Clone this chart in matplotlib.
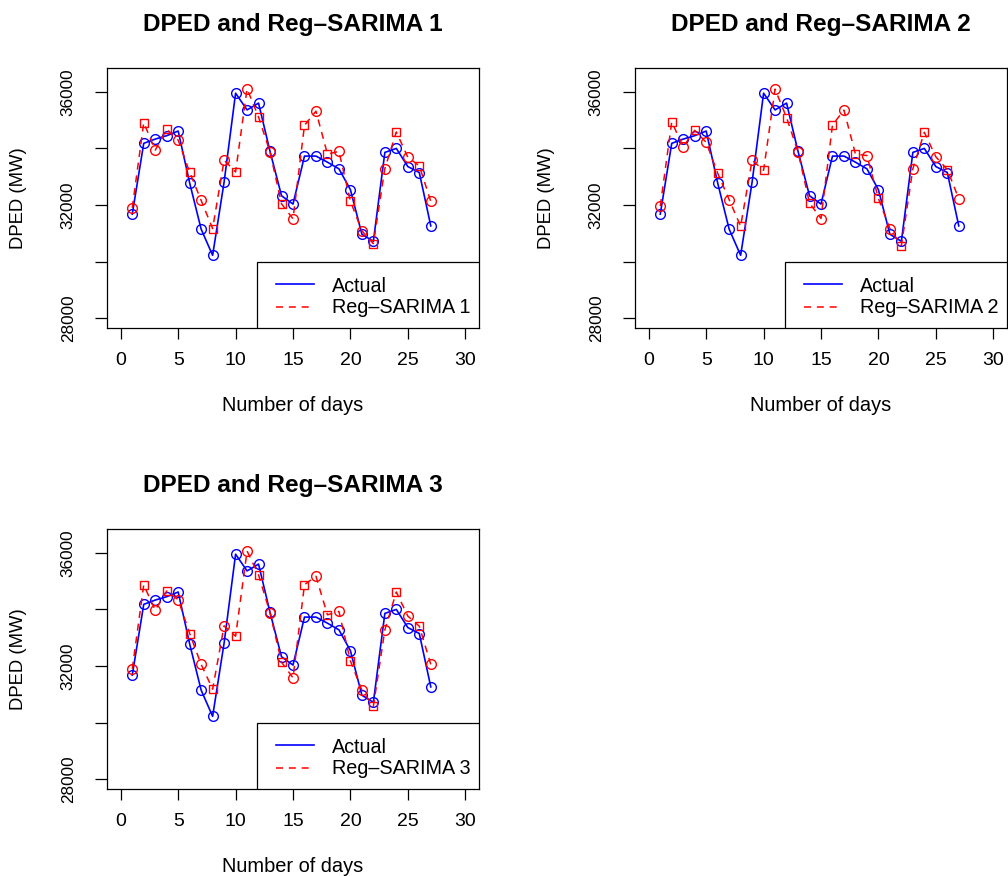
import matplotlib
matplotlib.use("Agg")
import matplotlib.pyplot as plt
from matplotlib.patches import Rectangle
import numpy as np

plt.rcParams['font.family'] = ['Liberation Sans', 'DejaVu Sans']

# Data
days = np.arange(1, 28)
actual = [31680, 34180, 34330, 34450, 34615, 32780, 31150, 30225, 32815, 35950,
          35360, 35600, 33895, 32330, 32035, 33730, 33730, 33515, 33280, 32545,
          30970, 30720, 33860, 34000, 33360, 33150, 31265]
reg_sarima_1 = [31905, 34910, 33940, 34675, 34295, 33160, 32165, 31170, 33585, 33170,
                36105, 35110, 33870, 32045, 31515, 34815, 35315, 33800, 33895, 32140,
                31090, 30640, 33290, 34580, 33690, 33385, 32130]
reg_sarima_2 = [31965, 34935, 34060, 34640, 34215, 33125, 32190, 31255, 33585, 33230,
                36095, 35090, 33880, 32070, 31525, 34830, 35350, 33800, 33750, 32235,
                31170, 30570, 33280, 34570, 33705, 33255, 32225]
reg_sarima_3 = [31905, 34865, 33975, 34650, 34345, 33150, 32060, 31185, 33420, 33055,
                36060, 35220, 33880, 32140, 31585, 34875, 35170, 33810, 33930, 32180,
                31150, 30580, 33280, 34615, 33765, 33410, 32060]
forecasts = [reg_sarima_1, reg_sarima_2, reg_sarima_3]
names = ['Reg\u2013SARIMA 1', 'Reg\u2013SARIMA 2', 'Reg\u2013SARIMA 3']

x_ticks = [0, 5, 10, 15, 20, 25, 30]
y_ticks = [28000, 30000, 32000, 34000, 36000]
y_ticklabels = ['28000', '', '32000', '', '36000']

W, H = 1008, 876
fig = plt.figure(figsize=(W / 100, H / 100), dpi=100)

# axes boxes in pixels: left, top
boxes = [(107, 68), (635, 68), (107, 529)]
bw, bh = 372, 260
dash = (0, (4.6, 3.8))

for (left, top), fc, name in zip(boxes, forecasts, names):
    ax = fig.add_axes([left / W, 1 - (top + bh) / H, bw / W, bh / H])
    ax.plot(days, actual, color='blue', lw=1.2, marker='o', ms=7, mfc='none',
            mew=1.0, zorder=3)
    ax.plot(days, fc, color='red', lw=1.1, ls=dash, zorder=4)
    fc = np.array(fc)
    odd = days % 2 == 1
    ax.plot(days[odd], fc[odd], ls='none', marker='o', ms=7, mfc='none',
            mec='red', mew=1.0, zorder=4)
    ax.plot(days[~odd], fc[~odd], ls='none', marker='s', ms=5.8, mfc='none',
            mec='red', mew=1.0, zorder=4)

    ax.set_xlim(-1.2, 31.2)
    ax.set_ylim(27660, 36840)
    ax.set_xticks(x_ticks)
    ax.set_xticklabels([str(t) for t in x_ticks], fontsize=14)
    ax.set_yticks(y_ticks)
    ax.set_yticklabels(y_ticklabels, fontsize=12.3, rotation=90, va='center')
    ax.tick_params(axis='x', length=8, width=0.9, pad=9)
    ax.tick_params(axis='y', length=8.5, width=0.9, pad=14)
    for s in ax.spines.values():
        s.set_linewidth(0.9)

    ax.set_title(name.replace('Reg', 'DPED and Reg'), fontsize=17.6,
                 fontweight='bold', pad=27)
    ax.set_xlabel('Number of days', fontsize=14.4)
    ax.xaxis.set_label_coords(0.5, -0.319)
    ax.xaxis.label.set_va('baseline')
    ax.set_ylabel('DPED (MW)', fontsize=13.3)
    ax.yaxis.set_label_coords(-0.215, 0.5)

    # legend box in the lower right corner, drawn like R's legend()
    ax.add_patch(Rectangle((0.403, 0.0), 0.597, 0.254, transform=ax.transAxes,
                           facecolor='white', edgecolor='black', lw=0.9, zorder=6))
    ax.plot([0.454, 0.556], [0.168, 0.168], transform=ax.transAxes,
            color='blue', lw=1.2, zorder=7)
    ax.plot([0.454, 0.556], [0.081, 0.081], transform=ax.transAxes,
            color='red', lw=1.1, ls=dash, zorder=7)
    ax.text(0.605, 0.138, 'Actual', transform=ax.transAxes, fontsize=14.2,
            va='baseline', zorder=7, clip_on=True)
    ax.text(0.605, 0.058, name, transform=ax.transAxes, fontsize=14.2,
            va='baseline', zorder=7, clip_on=True)

fig.savefig('out.png', dpi=100)
